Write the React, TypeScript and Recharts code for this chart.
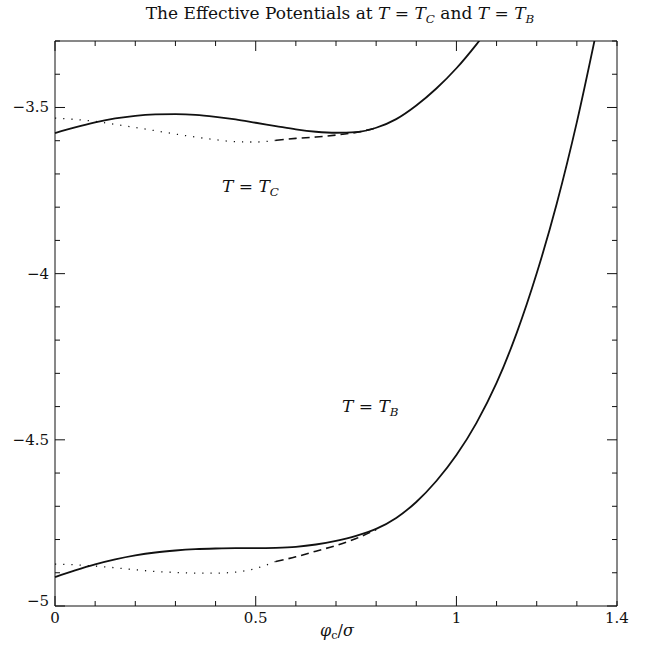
import { LineChart, Line, XAxis, YAxis } from "recharts"

// phi_c / sigma sample points
const phi = [0, 0.05, 0.1, 0.15, 0.2, 0.25, 0.3, 0.35, 0.4, 0.45, 0.5, 0.55, 0.6, 0.65, 0.7, 0.75, 0.8, 0.85, 0.9, 0.95, 1, 1.05, 1.1, 1.15, 1.2, 1.25, 1.3, 1.35]

// T = T_C
const tcSolid = [-3.577, -3.56, -3.545, -3.533, -3.525, -3.521, -3.52, -3.522, -3.528, -3.536, -3.546, -3.556, -3.566, -3.573, -3.576, -3.574, -3.561, -3.535, -3.494, -3.443, -3.382, -3.31, -3.23, null, null, null, null, null]
const tcDotted = [-3.532, -3.536, -3.542, -3.551, -3.56, -3.57, -3.58, -3.589, -3.597, -3.603, -3.604, -3.599, null, null, null, null, null, null, null, null, null, null, null, null, null, null, null, null]
const tcDashed = [null, null, null, null, null, null, null, null, null, null, null, -3.599, -3.593, -3.589, -3.583, -3.575, -3.562, null, null, null, null, null, null, null, null, null, null, null]

// T = T_B
const tbSolid = [-4.913, -4.893, -4.875, -4.86, -4.848, -4.839, -4.833, -4.829, -4.827, -4.826, -4.826, -4.825, -4.822, -4.815, -4.804, -4.789, -4.768, -4.735, -4.687, -4.624, -4.546, -4.449, -4.329, -4.179, -3.999, -3.789, -3.544, -3.264]
const tbDotted = [-4.874, -4.876, -4.88, -4.885, -4.891, -4.896, -4.899, -4.901, -4.901, -4.898, -4.887, -4.866, null, null, null, null, null, null, null, null, null, null, null, null, null, null, null, null]
const tbDashed = [null, null, null, null, null, null, null, null, null, null, null, -4.866, -4.852, -4.835, -4.818, -4.797, -4.77, null, null, null, null, null, null, null, null, null, null, null]

const xTicks = [0, 0.1, 0.2, 0.3, 0.4, 0.5, 0.6, 0.7, 0.8, 0.9, 1, 1.1, 1.2, 1.3, 1.4]
const xLabels = [0, 0.5, 1, 1.4]
const yTicks = [-5, -4.9, -4.8, -4.7, -4.6, -4.5, -4.4, -4.3, -4.2, -4.1, -4, -3.9, -3.8, -3.7, -3.6, -3.5, -3.4, -3.3]
const yLabels = [-5, -4.5, -4, -3.5]

const data = phi.map((x, i) => ({
  x,
  tcSolid: tcSolid[i],
  tcDotted: tcDotted[i],
  tcDashed: tcDashed[i],
  tbSolid: tbSolid[i],
  tbDotted: tbDotted[i],
  tbDashed: tbDashed[i],
}))

const FONT = '"DejaVu Serif", "Liberation Serif", serif'
const INK = "#111"
const MAJOR = 10
const MINOR = 5

const isMajor = (v: number) => Math.abs(v * 2 - Math.round(v * 2)) < 1e-6
const hasLabel = (list: number[], v: number) => list.some(l => Math.abs(l - v) < 1e-6)
const fmtY = (v: number) => `\u2212${Math.abs(v)}`

function BottomTick({ x, y, payload }: any) {
  const v = payload.value
  const len = isMajor(v) ? MAJOR : MINOR
  return (
    <g>
      <line x1={x} x2={x} y1={y} y2={y - len} stroke={INK} strokeWidth={1} />
      {hasLabel(xLabels, v) && (
        <text x={x} y={y + 17} textAnchor="middle" fontFamily={FONT} fontSize={15} fill={INK}>{String(v)}</text>
      )}
    </g>
  )
}

function TopTick({ x, y, payload }: any) {
  const len = isMajor(payload.value) ? MAJOR : MINOR
  return <line x1={x} x2={x} y1={y} y2={y + len} stroke={INK} strokeWidth={1} />
}

function LeftTick({ x, y, payload }: any) {
  const v = payload.value
  const len = isMajor(v) ? MAJOR : MINOR
  return (
    <g>
      <line x1={x} x2={x + len} y1={y} y2={y} stroke={INK} strokeWidth={1} />
      {hasLabel(yLabels, v) && (
        <text x={x - 6} y={y + (v === -5 ? 0 : 5)} textAnchor="end" fontFamily={FONT} fontSize={15} fill={INK}>{fmtY(v)}</text>
      )}
    </g>
  )
}

function RightTick({ x, y, payload }: any) {
  const len = isMajor(payload.value) ? MAJOR : MINOR
  return <line x1={x} x2={x - len} y1={y} y2={y} stroke={INK} strokeWidth={1} />
}

const sub = { fontSize: "0.7em", verticalAlign: "-0.3em", fontStyle: "italic" } as const

export default function App() {
  return (
    <div style={{ position: "absolute", left: 0, top: 0, width: 645, height: 657, background: "#fff", fontFamily: FONT, color: INK }}>
      <LineChart width={645} height={657} data={data} margin={{ top: 0, right: 0, bottom: 0, left: 0 }}>
        <XAxis
          dataKey="x" type="number" domain={[0, 1.4]} ticks={xTicks} interval={0}
          height={51} tickSize={0} tickMargin={0} tick={<BottomTick />}
          axisLine={{ stroke: INK, strokeWidth: 1 }} tickLine={false}
        />
        <XAxis
          xAxisId="top" orientation="top" dataKey="x" type="number" domain={[0, 1.4]} ticks={xTicks} interval={0}
          height={41} tickSize={0} tickMargin={0} tick={<TopTick />}
          axisLine={{ stroke: INK, strokeWidth: 1 }} tickLine={false}
        />
        <YAxis
          type="number" domain={[-5, -3.3]} ticks={yTicks} interval={0} allowDataOverflow
          width={55} tickSize={0} tickMargin={0} tick={<LeftTick />}
          axisLine={{ stroke: INK, strokeWidth: 1 }} tickLine={false}
        />
        <YAxis
          yAxisId="right" orientation="right" type="number" domain={[-5, -3.3]} ticks={yTicks} interval={0} allowDataOverflow
          width={28} tickSize={0} tickMargin={0} tick={<RightTick />}
          axisLine={{ stroke: INK, strokeWidth: 1 }} tickLine={false}
        />
        <Line dataKey="tcSolid" type="monotone" stroke={INK} strokeWidth={1.8} dot={false} isAnimationActive={false} />
        <Line dataKey="tcDotted" type="monotone" stroke={INK} strokeWidth={1.3} strokeDasharray="1.2 7" dot={false} isAnimationActive={false} />
        <Line dataKey="tcDashed" type="monotone" stroke={INK} strokeWidth={1.6} strokeDasharray="8 5" dot={false} isAnimationActive={false} />
        <Line dataKey="tbSolid" type="monotone" stroke={INK} strokeWidth={1.8} dot={false} isAnimationActive={false} />
        <Line dataKey="tbDotted" type="monotone" stroke={INK} strokeWidth={1.3} strokeDasharray="1.2 7" dot={false} isAnimationActive={false} />
        <Line dataKey="tbDashed" type="monotone" stroke={INK} strokeWidth={1.6} strokeDasharray="8 5" dot={false} isAnimationActive={false} />
      </LineChart>

      {/* title */}
      <div style={{ position: "absolute", left: 340, top: 3, transform: "translateX(-50%)", whiteSpace: "nowrap", fontSize: 17 }}>
        The Effective Potentials at <i>T</i> = <i>T</i><span style={sub}>C</span> and <i>T</i> = <i>T</i><span style={sub}>B</span>
      </div>

      {/* annotations */}
      <div style={{ position: "absolute", left: 222, top: 176, whiteSpace: "nowrap", fontSize: 17 }}>
        <i>T</i> = <i>T</i><span style={sub}>C</span>
      </div>
      <div style={{ position: "absolute", left: 342, top: 396, whiteSpace: "nowrap", fontSize: 17 }}>
        <i>T</i> = <i>T</i><span style={sub}>B</span>
      </div>

      {/* x-axis title */}
      <div style={{ position: "absolute", left: 337, top: 621, transform: "translateX(-50%)", whiteSpace: "nowrap", fontSize: 16 }}>
        <i>φ</i><span style={{ ...sub, fontStyle: "normal" }}>c</span>/<i>σ</i>
      </div>
    </div>
  )
}
